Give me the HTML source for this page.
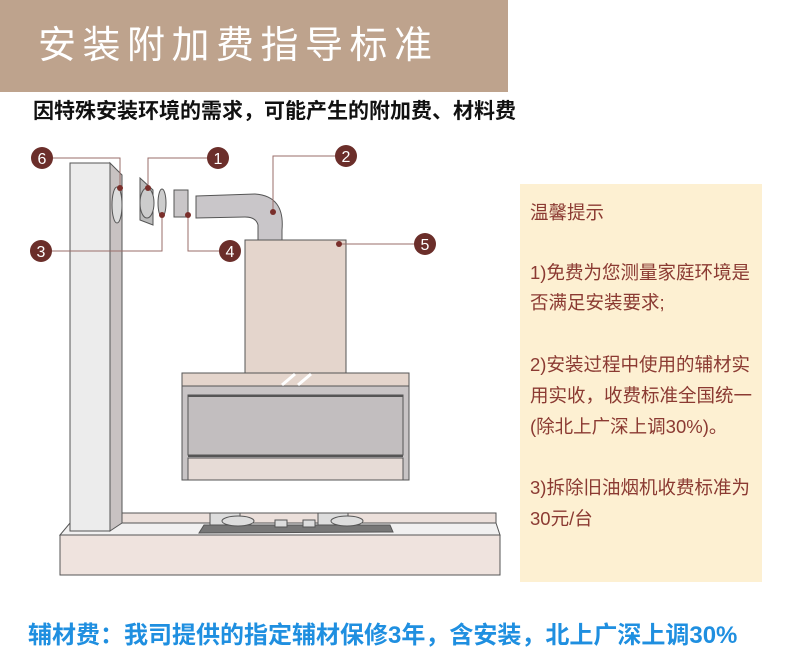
<!DOCTYPE html>
<html><head><meta charset="utf-8"><style>
body{margin:0;width:790px;height:658px;background:#fff;position:relative;overflow:hidden;font-family:"Liberation Sans","Noto Sans CJK SC",sans-serif}
.hdr{position:absolute;left:0;top:0;width:508px;height:92px;background:#bea38d}
.hdr span{position:absolute;left:38px;top:24px;color:#fff;font-size:38px;letter-spacing:6.5px;line-height:44px}
.sub{position:absolute;left:33px;top:95px;font-size:21px;font-weight:bold;color:#111;white-space:nowrap}
.tip{position:absolute;left:520px;top:184px;width:242px;height:398px;background:#fdf0d2;color:#8b3a32;font-size:18.5px}
.tip div{position:absolute;left:10px;white-space:nowrap;line-height:22px}
.bot{position:absolute;left:28px;top:615px;font-size:24px;font-weight:bold;color:#1f8fe0;white-space:nowrap}
</style></head><body>
<div class="hdr"><span>安装附加费指导标准</span></div>
<div class="sub">因特殊安装环境的需求，可能产生的附加费、材料费</div>
<svg width="790" height="658" style="position:absolute;left:0;top:0">
<g stroke="#555" stroke-width="1">
<polygon points="122,513 496,513 496,523 122,523" fill="#ece0db"/>
<polygon points="70,523 496,523 500,535 60,535" fill="#f1f0f0"/>
<rect x="60" y="535" width="440" height="40" fill="#efe3de"/>
<polygon points="110,163 122,175 122,523 110,531" fill="#c8c2c2"/>
<rect x="70" y="163" width="40" height="368" fill="#ececec"/>
<ellipse cx="117" cy="205" rx="5" ry="18" fill="#ddd"/>
<polygon points="140,178 153,190 153,225 140,220" fill="#bbb"/>
<ellipse cx="147" cy="203" rx="7" ry="15" fill="#ccc"/>
<ellipse cx="162" cy="203" rx="4" ry="14" fill="#ccc"/>
<rect x="174" y="190" width="14" height="27" fill="#c9c6c8"/>
<path d="M196,196 L255,194 Q285,196 282,230 L282,240 L258,240 L258,225 Q256,217 245,217 L196,218 Z" fill="#c9c6c9"/>
<rect x="245" y="240" width="101" height="133" fill="#e4d5cc"/>
<rect x="182" y="373" width="227" height="13" fill="#e4d5cc"/>
<rect x="182" y="386" width="227" height="94" fill="#c8c4c5"/>
<rect x="188" y="395" width="215" height="60" fill="#c2bebf"/>
<line x1="188" y1="396" x2="403" y2="396" stroke-width="2"/>
<line x1="188" y1="456" x2="403" y2="456" stroke-width="2"/>
<rect x="188" y="458" width="215" height="22" fill="#e6dbd6"/>
<polygon points="204,525 390,525 393,532 199,533" fill="#777"/>
<rect x="210" y="513" width="30" height="12" fill="#ddd"/>
<rect x="318" y="513" width="30" height="12" fill="#ddd"/>
<ellipse cx="238" cy="521" rx="16" ry="5" fill="#ddd"/>
<ellipse cx="347" cy="521" rx="16" ry="5" fill="#ddd"/>
<rect x="275" y="520" width="12" height="7" fill="#ddd"/>
<rect x="303" y="520" width="12" height="7" fill="#ddd"/>
</g>
<line x1="282" y1="385" x2="295" y2="374" stroke="#fff" stroke-width="3"/>
<line x1="298" y1="385" x2="311" y2="374" stroke="#fff" stroke-width="3"/>
<g stroke="#9a6e6a" stroke-width="1" fill="none">
<polyline points="52,158 120,158 120,188"/>
<polyline points="228,158 148,158 148,188"/>
<polyline points="336,156 273,156 273,212"/>
<polyline points="51,251 162,251 162,215"/>
<polyline points="220,251 188,251 188,215"/>
<polyline points="415,244 339,244"/>
</g>
<g fill="#7a2f2b">
<circle cx="120" cy="188" r="3"/><circle cx="148" cy="188" r="3"/><circle cx="273" cy="212" r="3"/>
<circle cx="162" cy="215" r="3"/><circle cx="188" cy="215" r="3"/><circle cx="339" cy="244" r="3"/>
</g>
<g font-size="16" fill="#fff" text-anchor="middle" font-family="Liberation Sans">
<circle cx="42" cy="158" r="11" fill="#6b2e2a"/><text x="42" y="164">6</text>
<circle cx="218" cy="158" r="11" fill="#6b2e2a"/><text x="218" y="164">1</text>
<circle cx="346" cy="156" r="11" fill="#6b2e2a"/><text x="346" y="162">2</text>
<circle cx="41" cy="251" r="11" fill="#6b2e2a"/><text x="41" y="257">3</text>
<circle cx="230" cy="251" r="11" fill="#6b2e2a"/><text x="230" y="257">4</text>
<circle cx="425" cy="244" r="11" fill="#6b2e2a"/><text x="425" y="250">5</text>
</g>
</svg>
<div class="tip">
<div style="top:18px">温馨提示</div>
<div style="top:78px">1)免费为您测量家庭环境是</div>
<div style="top:108px">否满足安装要求;</div>
<div style="top:170px">2)安装过程中使用的辅材实</div>
<div style="top:201px">用实收，收费标准全国统一</div>
<div style="top:232px">(除北上广深上调30%)。</div>
<div style="top:293px">3)拆除旧油烟机收费标准为</div>
<div style="top:324px">30元/台</div>
</div>
<div class="bot">辅材费：我司提供的指定辅材保修3年，含安装，北上广深上调30%</div>
</body></html>
